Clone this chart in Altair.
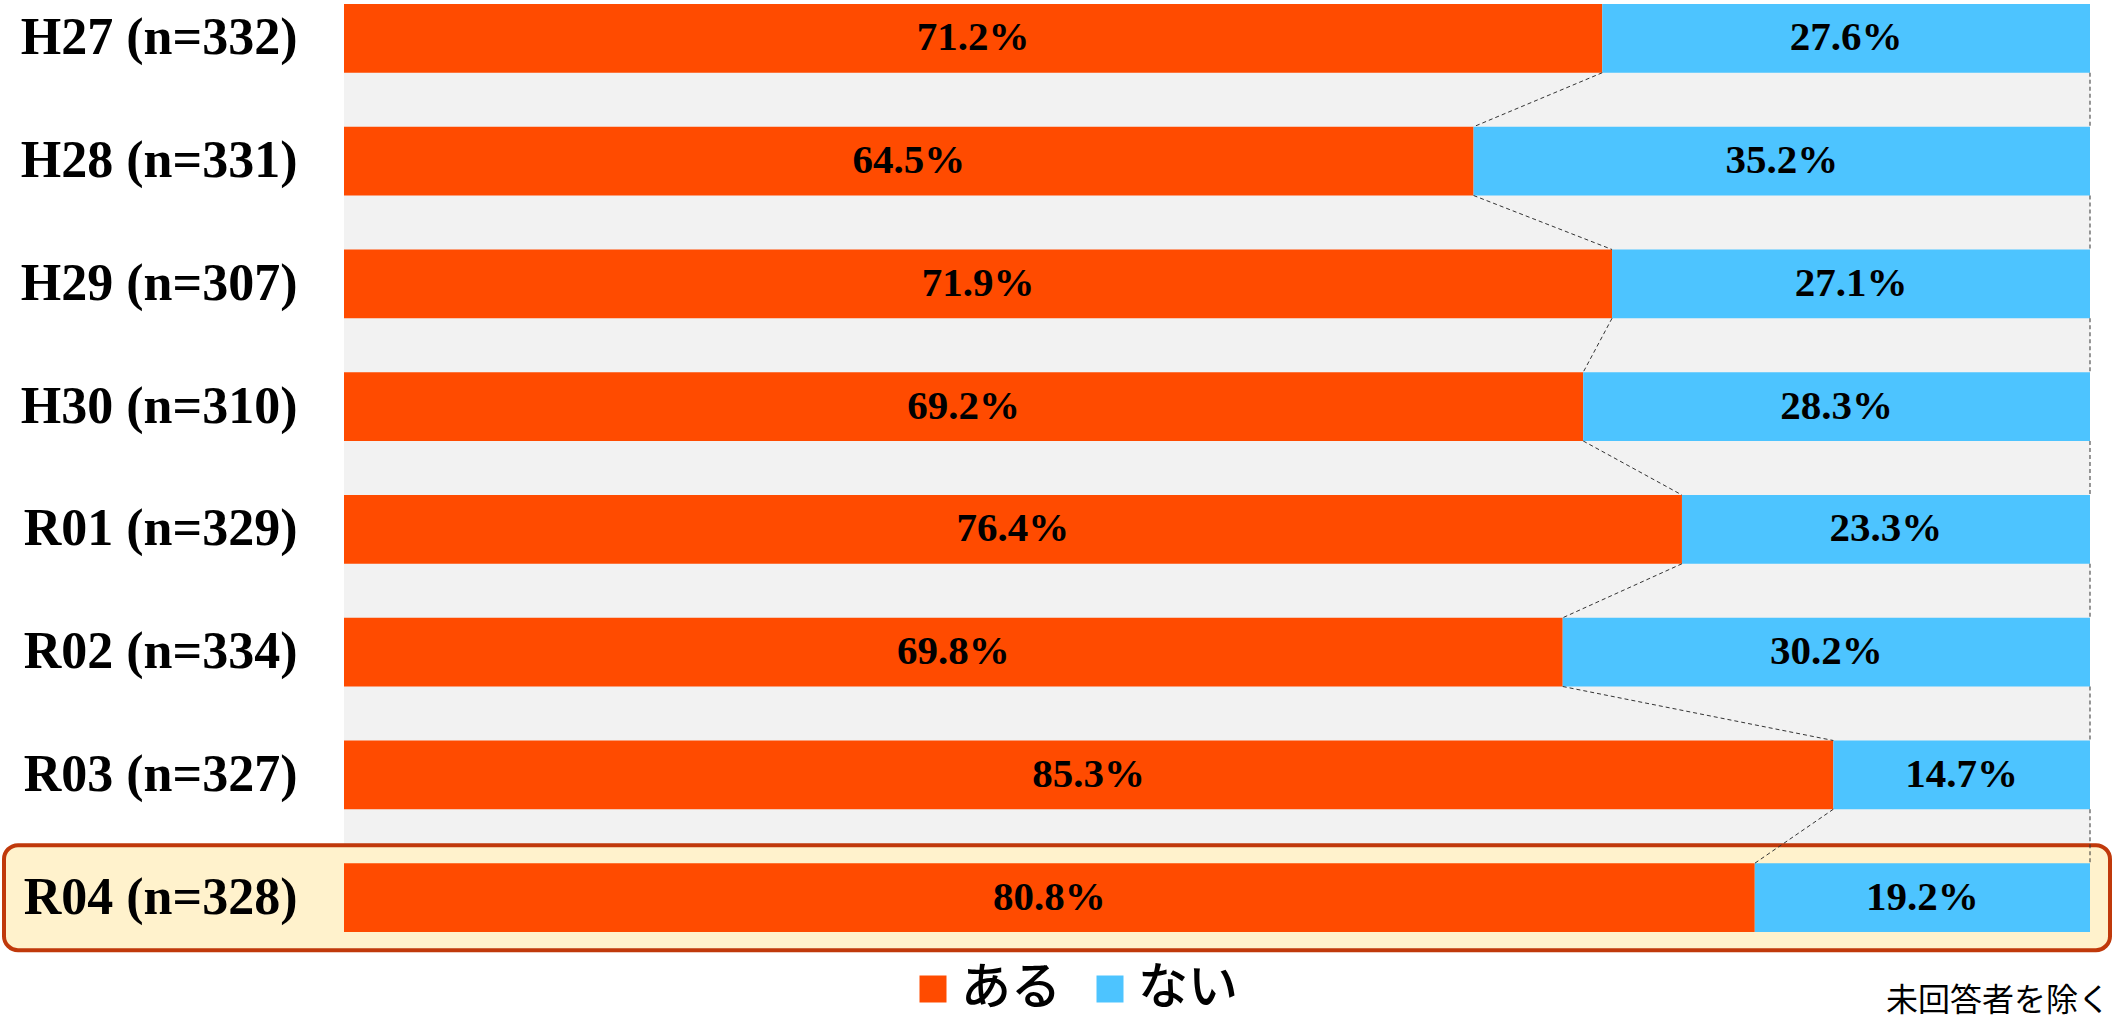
import altair as alt
import pandas as pd

years = ["H27 (n=332)", "H28 (n=331)", "H29 (n=307)", "H30 (n=310)",
         "R01 (n=329)", "R02 (n=334)", "R03 (n=327)", "R04 (n=328)"]
aru = [71.2, 64.5, 71.9, 69.2, 76.4, 69.8, 85.3, 80.8]
nai = [27.6, 35.2, 27.1, 28.3, 23.3, 30.2, 14.7, 19.2]
series = ["ある", "ない"]
colors = ["#FF4B00", "#4DC4FF"]
highlight = "R04 (n=328)"
note = "未回答者を除く"

W, H = 1746, 928

rows = []
for y, a, n in zip(years, aru, nai):
    fa = a / (a + n)
    rows.append(dict(year=y, series="ある", value=a, start=0.0, end=fa))
    rows.append(dict(year=y, series="ない", value=n, start=fa, end=1.0))
df = pd.DataFrame(rows)
df["mid"] = (df["start"] + df["end"]) / 2
df["label"] = df["value"].map(lambda v: f"{v:.1f}%")

conn = []
for i in range(len(years) - 1):
    f0 = aru[i] / (aru[i] + nai[i])
    f1 = aru[i + 1] / (aru[i + 1] + nai[i + 1])
    conn.append(dict(y_from=years[i], y_to=years[i + 1], x_from=f0, x_to=f1))
    conn.append(dict(y_from=years[i], y_to=years[i + 1], x_from=1.0, x_to=1.0))
conn = pd.DataFrame(conn)

yscale = alt.Scale(domain=years, paddingInner=0.44, paddingOuter=0)
yaxis = alt.Axis(title=None, ticks=False, domain=False, labelFont="Liberation Serif",
                 labelFontWeight="bold", labelFontSize=52, labelColor="black",
                 labelPadding=47, labelLimit=500, zindex=1)
xscale = alt.Scale(domain=[0, 1], nice=False)

box = alt.Chart(pd.DataFrame({"year": [highlight]})).mark_bar(
    height=105, cornerRadius=14, fill="#FFF2CC", stroke="#C0390B", strokeWidth=4
).encode(
    x=alt.value(-340), x2=alt.value(W + 20),
    y=alt.Y("year:N", scale=yscale, axis=yaxis),
)

bars = alt.Chart(df).mark_bar().encode(
    x=alt.X("start:Q", scale=xscale, axis=None),
    x2="end:Q",
    y=alt.Y("year:N", scale=yscale, axis=yaxis),
    color=alt.Color("series:N", scale=alt.Scale(domain=series, range=colors),
                    legend=alt.Legend(title=None, orient="none", legendX=564, legendY=960,
                                      direction="horizontal", symbolType="square",
                                      symbolSize=729, symbolStrokeWidth=0,
                                      labelFont="Noto Sans CJK JP", labelFontSize=50,
                                      labelFontWeight=500,
                                      labelColor="black", labelOffset=3, columnPadding=24)),
)

labels = alt.Chart(df).mark_text(font="Liberation Serif", fontWeight="bold",
                                 fontSize=41, color="black").encode(
    x=alt.X("mid:Q", scale=xscale, axis=None),
    y=alt.Y("year:N", scale=yscale, axis=yaxis),
    text="label:N",
)

rules = alt.Chart(conn).mark_rule(color="#333333", strokeWidth=1, strokeDash=[4, 3]).encode(
    x=alt.X("x_from:Q", scale=xscale, axis=None),
    x2="x_to:Q",
    y=alt.Y("y_from:N", scale=yscale, axis=yaxis, bandPosition=1),
    y2=alt.Y2("y_to:N", bandPosition=0),
)

note_layer = alt.Chart(pd.DataFrame({"t": [note]})).mark_text(
    align="right", baseline="bottom", font="Noto Sans CJK JP", fontSize=32, color="black"
).encode(x=alt.value(W + 20), y=alt.value(1014), text="t:N")

chart = alt.layer(box, bars, labels, rules, note_layer).properties(
    width=W, height=H,
    padding={"left": 2, "top": 4, "right": 0, "bottom": 4},
).configure_view(fill="#F2F2F2", strokeWidth=0)

chart.save("out.html", embed_options={"renderer": "svg", "actions": False})
